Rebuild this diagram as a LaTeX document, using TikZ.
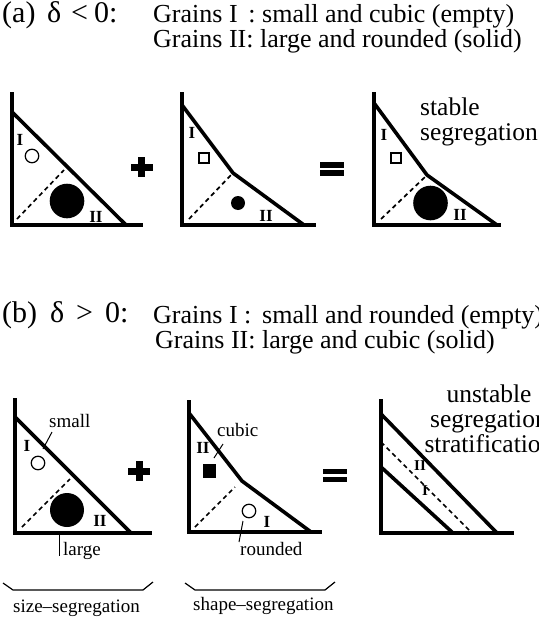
\documentclass[tikz,border=0pt]{standalone}
\usepackage{fontspec}
\setmainfont{Liberation Serif}
\begin{document}
\begin{tikzpicture}[x=1pt,y=-1pt,
  axis/.style={line width=3.6pt, line join=miter},
  wall/.style={line width=3.6pt, line join=round},
  dline/.style={line width=1.7pt, dash pattern=on 4.5pt off 3.5pt},
  lab/.style={font=\fontsize{17}{17}\selectfont\bfseries, inner sep=0pt},
  slab/.style={font=\fontsize{15}{15}\selectfont\bfseries, inner sep=0pt},
  note/.style={font=\fontsize{19}{19}\selectfont, inner sep=0pt, anchor=base west},
  big/.style={font=\fontsize{30}{30}\selectfont, inner sep=0pt, anchor=base west},
  dlt/.style={font=\fontsize{30}{30}\selectfont, inner sep=0pt, anchor=base west},
  head/.style={font=\fontsize{26}{26}\selectfont, inner sep=0pt, anchor=base west},
  side/.style={font=\fontsize{25.5}{25.5}\selectfont, inner sep=0pt},
  hollow/.style={circle, draw, line width=1.2pt, minimum size=13.5pt, inner sep=0pt},
  grain/.style={circle, fill, inner sep=0pt},
  box/.style={draw, line width=1.2pt, minimum size=10pt, inner sep=0pt},
  leader/.style={line width=1pt},
  brace/.style={line width=1.2pt, line join=miter}]
\useasboundingbox (0,0) rectangle (538,629);

% ---------- header (a)
\node[big] (ha) at (2,23) {(a)};
\node[dlt] (da) at (47,23) {δ};
\node[big] (lta) at (71,23) {<};
\node[big] (za) at (94,23) {0:};
\node[head] (ga1) at (153,23) {Grains I\, : small and cubic (empty)};
\node[head] (ga2) at (153,47) {Grains II: large and rounded (solid)};

% ---------- panel a1
\coordinate (a1t) at (12,92); \coordinate (a1o) at (12,225); \coordinate (a1r) at (143,225);
\draw[axis] (a1t) -- (a1o) -- (a1r);
\coordinate (a1h1) at (12,112); \coordinate (a1h2) at (126,225);
\draw[wall] (a1h1) -- (a1h2);
\coordinate (a1d1) at (17,219); \coordinate (a1d2) at (64,170);
\draw[dline] (a1d1) -- (a1d2);
\node[hollow] (a1s) at (32,156) {};
\node[grain, minimum size=34.6pt] (a1b) at (67,201) {};
\node[lab] (a1i) at (20,140) {I};
\node[lab] (a1ii) at (96,217) {II};

% plus (a)
\fill (130.5,163.5) rectangle (152.5,170.5);
\fill (138,157) rectangle (145,177);

% ---------- panel a2
\coordinate (a2t) at (182,92); \coordinate (a2o) at (182,225); \coordinate (a2r) at (316,225);
\draw[axis] (a2t) -- (a2o) -- (a2r);
\coordinate (a2h1) at (182,105); \coordinate (a2k) at (233,173); \coordinate (a2h2) at (304,225);
\draw[wall] (a2h1) -- (a2k) -- (a2h2);
\coordinate (a2d1) at (189,219); \coordinate (a2d2) at (231,175);
\draw[dline] (a2d1) -- (a2d2);
\node[box] (a2s) at (204,158) {};
\node[grain, minimum size=14pt] (a2b) at (238,203) {};
\node[lab] (a2i) at (192,133) {I};
\node[lab] (a2ii) at (266,216) {II};

% equals (a)
\fill (320,162) rectangle (344,167.5);
\fill (320,170) rectangle (344,175.5);

% ---------- panel a3
\coordinate (a3t) at (374,92); \coordinate (a3o) at (374,225); \coordinate (a3r) at (501,225);
\draw[axis] (a3t) -- (a3o) -- (a3r);
\coordinate (a3h1) at (374,103); \coordinate (a3k) at (427,175); \coordinate (a3h2) at (497,225);
\draw[wall] (a3h1) -- (a3k) -- (a3h2);
\coordinate (a3d1) at (381,219); \coordinate (a3d2) at (425,177);
\draw[dline] (a3d1) -- (a3d2);
\node[box] (a3s) at (396,158) {};
\node[grain, minimum size=34.6pt] (a3b) at (430.5,203) {};
\node[lab] (a3i) at (384,135) {I};
\node[lab] (a3ii) at (460,215) {II};
\node[side, anchor=base west] (st1) at (420,115) {stable};
\node[side, anchor=base west] (st2) at (420,140) {segregation};

% ---------- header (b)
\node[big] (hb) at (2,322) {(b)};
\node[dlt] (db) at (50,322) {δ};
\node[big] (gtb) at (76,322) {>};
\node[big] (zb) at (105,322) {0:};
\node[head] (gb1) at (153,323) {Grains I :\, small and rounded (empty)};
\node[head] (gb2) at (155,348) {Grains II: large and cubic (solid)};

% ---------- panel b1
\coordinate (b1t) at (15,398); \coordinate (b1o) at (15,533); \coordinate (b1r) at (152,533);
\draw[axis] (b1t) -- (b1o) -- (b1r);
\coordinate (b1h1) at (15,417); \coordinate (b1h2) at (131,533);
\draw[wall] (b1h1) -- (b1h2);
\coordinate (b1d1) at (22,527); \coordinate (b1d2) at (70,479);
\draw[dline] (b1d1) -- (b1d2);
\node[hollow] (b1s) at (38,463) {};
\node[grain, minimum size=34pt] (b1b) at (67,510) {};
\node[lab] (b1i) at (27,446) {I};
\node[lab] (b1ii) at (100,521) {II};
\node[note] (small) at (49,427) {small};
\coordinate (smA) at (52,432); \coordinate (smB) at (43,449);
\draw[leader] (smA) -- (smB);
\node[note] (large) at (63,555) {large};
\coordinate (lgA) at (59.5,533); \coordinate (lgB) at (59.5,556);
\draw[leader] (lgA) -- (lgB);

% plus (b)
\fill (128,467.5) rectangle (150,474.5);
\fill (135.5,461) rectangle (142.5,481);

% ---------- panel b2
\coordinate (b2t) at (189,400); \coordinate (b2o) at (189,532); \coordinate (b2r) at (322,532);
\draw[axis] (b2t) -- (b2o) -- (b2r);
\coordinate (b2h1) at (189,413); \coordinate (b2k) at (242,481); \coordinate (b2h2) at (311,532);
\draw[wall] (b2h1) -- (b2k) -- (b2h2);
\coordinate (b2d1) at (195,527); \coordinate (b2d2) at (235,487);
\draw[dline] (b2d1) -- (b2d2);
\node[fill, minimum width=13pt, minimum height=14pt, inner sep=0pt] (b2s) at (209,471) {};
\node[lab] (b2ii) at (203,448) {II};
\node[note] (cubic) at (217,436) {cubic};
\coordinate (cuA) at (223,444); \coordinate (cuB) at (214,458);
\draw[leader] (cuA) -- (cuB);
\node[hollow] (b2c) at (249,511) {};
\node[lab] (b2i) at (267,522) {I};
\node[note] (rounded) at (240,555) {rounded};
\coordinate (roA) at (243,521); \coordinate (roB) at (239,542);
\draw[leader] (roA) -- (roB);

% equals (b)
\fill (323,468.5) rectangle (347,474);
\fill (323,476.5) rectangle (347,482);

% ---------- panel b3
\coordinate (b3t) at (381,399); \coordinate (b3o) at (381,533); \coordinate (b3r) at (514,533);
\draw[axis] (b3t) -- (b3o) -- (b3r);
\coordinate (b3u1) at (381,414); \coordinate (b3u2) at (497,533);
\draw[wall] (b3u1) -- (b3u2);
\coordinate (b3l1) at (381,467); \coordinate (b3l2) at (453,533);
\draw[wall] (b3l1) -- (b3l2);
\coordinate (b3d1) at (381,442); \coordinate (b3d2) at (472,533);
\draw[dline] (b3d1) -- (b3d2);
\node[slab] (b3ii) at (420,466) {II};
\node[slab] (b3i) at (425,491) {I};
\node[side, anchor=base] (us1) at (489,402) {unstable};
\node[side, anchor=base] (us2) at (489,427) {segregation};
\node[side, anchor=base] (us3) at (489,452) {stratification};

% ---------- braces
\coordinate (br1a) at (3,583); \coordinate (br1b) at (13,590);
\coordinate (br1c) at (143,590); \coordinate (br1d) at (153,582);
\draw[brace] (br1a) -- (br1b) -- (br1c) -- (br1d);
\coordinate (br2a) at (185,583); \coordinate (br2b) at (195,590);
\coordinate (br2c) at (325,590); \coordinate (br2d) at (335,582);
\draw[brace] (br2a) -- (br2b) -- (br2c) -- (br2d);
\node[note] (sizeseg) at (13,612) {size–segregation};
\node[note] (shapeseg) at (193,610) {shape–segregation};
\end{tikzpicture}
\end{document}
